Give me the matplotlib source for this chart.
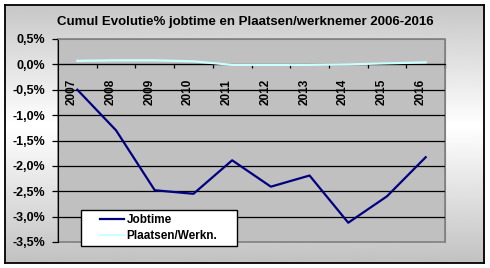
import matplotlib.pyplot as plt
import numpy as np
from matplotlib.patches import Rectangle

years = ["2007", "2008", "2009", "2010", "2011", "2012", "2013", "2014", "2015", "2016"]
jobtime = [-0.50, -1.30, -2.48, -2.55, -1.89, -2.41, -2.19, -3.12, -2.60, -1.83]
plaatsen = [0.07, 0.08, 0.08, 0.06, -0.01, -0.01, -0.01, 0.00, 0.02, 0.04]
y_ticks = [0.5, 0.0, -0.5, -1.0, -1.5, -2.0, -2.5, -3.0, -3.5]
title = "Cumul Evolutie% jobtime en Plaatsen/werknemer 2006-2016"

plt.rcParams["font.family"] = ["Liberation Sans", "DejaVu Sans"]
plt.rcParams["font.weight"] = "bold"

fig = plt.figure(figsize=(4.9, 2.68), dpi=100)
fig.patch.set_facecolor("white")

# chart area: vertical grey-white-grey gradient with a black frame
bg = fig.add_axes([5 / 490, 5 / 268, 479 / 490, 258 / 268])
rows = np.linspace(0, 1, 256)
shade = np.interp(rows, [0, 0.47, 1], [0.78, 1.0, 0.76])
bg.imshow(np.repeat(shade[:, None], 2, axis=1), cmap="gray", vmin=0, vmax=1,
          aspect="auto", extent=[0, 1, 0, 1], origin="upper")
bg.set_xticks([])
bg.set_yticks([])
for s in bg.spines.values():
    s.set_linewidth(1.3)
    s.set_color("black")

ax = fig.add_axes([58 / 490, 26 / 268, 387 / 490, 203 / 268])
ax.set_facecolor("#C0C0C0")

x = np.arange(len(years))
for v in y_ticks[1:-1]:
    ax.axhline(v, color="black", lw=0.9, zorder=1)
ax.plot(x, jobtime, color="#000080", lw=1.6, label="Jobtime", zorder=3)
ax.plot(x, plaatsen, color="#CCFFFF", lw=1.6, label="Plaatsen/Werkn.", zorder=3)

ax.set_xlim(-0.5, len(years) - 0.5)
ax.set_ylim(-3.5, 0.5)
ax.set_yticks(y_ticks)
ax.set_yticklabels([f"{v:.1f}%".replace(".", ",") for v in y_ticks])
ax.tick_params(axis="y", direction="out", length=4, width=0.9, pad=5, labelsize=9)

ax.set_xticks(x + 0.5)
ax.set_xticklabels([])
ax.tick_params(axis="x", direction="out", length=3, width=0.9)
ax.spines["bottom"].set_position(("data", 0))
ax.spines["bottom"].set_color("black")
ax.spines["left"].set_color("black")
for side in ["top", "right"]:
    ax.spines[side].set_color("#808080")
ax.add_patch(Rectangle((0, 0), 1, 1, transform=ax.transAxes, fill=False,
                       edgecolor="#808080", lw=1.2, zorder=0.5, clip_on=False))

for i, yr in enumerate(years):
    ax.text(i - 0.14, -0.29, yr, rotation=90, ha="center", va="top", fontsize=8.5)

# legend: white box with black border, entries placed inside it
ax.add_patch(Rectangle((23 / 387, -4 / 203), 156 / 387, 36 / 203, transform=ax.transAxes,
                       facecolor="white", edgecolor="black", lw=1.0, zorder=4.5,
                       clip_on=False))
leg = ax.legend(loc="center left", bbox_to_anchor=(42 / 387, 14 / 203), borderaxespad=0,
                frameon=False, fontsize=8.5, handlelength=2.0, handletextpad=0.25,
                borderpad=0, labelspacing=0.35)

fig.text(0.5, 1 - 22 / 268, title, ha="center", va="center", fontsize=9.5)

fig.savefig("out.png", dpi=100)
